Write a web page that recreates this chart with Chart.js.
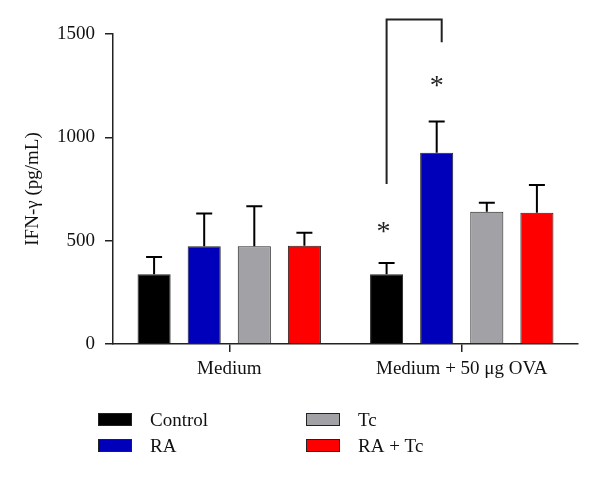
<!DOCTYPE html>
<html lang="en">
<head>
<meta charset="UTF-8">
<title>IFN-γ</title>
<script src="https://cdn.jsdelivr.net/npm/chart.js"></script>
<style>
    body { margin: 0; background: #fff; }
</style>
</head>
<body>
<canvas id="myChart" width="600" height="479"></canvas>
<script>
    // data
    const categories = ['Medium', 'Medium + 50 μg OVA'];
    const seriesNames = ['Control', 'RA', 'Tc', 'RA + Tc'];
    const controlValues = [337, 337];
    const raValues = [473, 926];
    const tcValues = [473, 640];
    const raTcValues = [475, 635];
    const controlErrors = [84, 55];
    const raErrors = [159, 151];
    const tcErrors = [194, 43];
    const raTcErrors = [63, 134];
    const yTicks = [0, 500, 1000, 1500];

    // significance bracket (OVA control -> OVA RA) and stars
    const bracketValues = [774, 1570, 1460]; // left bottom, top, right bottom
    const starValues = [580, 1287];          // over OVA control, over OVA RA

    const colors = ['#000000', '#0000bb', '#a2a2a6', '#ff0000'];
    const serif = "'Liberation Serif', 'DejaVu Serif', serif";

    // error bars (upper only)
    const errorBars = {
        id: 'errorBars',
        afterDatasetsDraw(chart) {
            const ctx = chart.ctx;
            const y = chart.scales.y;
            chart.data.datasets.forEach((ds, i) => {
                chart.getDatasetMeta(i).data.forEach((bar, j) => {
                    const top = y.getPixelForValue(ds.data[j] + ds.errors[j]);
                    ctx.save();
                    ctx.strokeStyle = '#000';
                    ctx.lineWidth = 2;
                    ctx.beginPath();
                    ctx.moveTo(bar.x, bar.y);
                    ctx.lineTo(bar.x, top);
                    ctx.moveTo(bar.x - 8, top);
                    ctx.lineTo(bar.x + 8, top);
                    ctx.stroke();
                    ctx.restore();
                });
            });
        }
    };

    // bracket + asterisks
    const significance = {
        id: 'significance',
        afterDraw(chart) {
            const ctx = chart.ctx;
            const y = chart.scales.y;
            const left = chart.getDatasetMeta(0).data[1].x;
            const right = chart.getDatasetMeta(1).data[1].x + 5;
            ctx.save();
            ctx.strokeStyle = '#222';
            ctx.lineWidth = 2;
            ctx.beginPath();
            ctx.moveTo(left, y.getPixelForValue(bracketValues[0]));
            ctx.lineTo(left, y.getPixelForValue(bracketValues[1]));
            ctx.lineTo(right, y.getPixelForValue(bracketValues[1]));
            ctx.lineTo(right, y.getPixelForValue(bracketValues[2]));
            ctx.stroke();

            ctx.fillStyle = '#222';
            ctx.font = '28px ' + serif;
            ctx.textAlign = 'center';
            ctx.textBaseline = 'alphabetic';
            const xs = [chart.getDatasetMeta(0).data[1].x - 3, chart.getDatasetMeta(1).data[1].x];
            starValues.forEach((v, k) => {
                ctx.fillText('*', xs[k], y.getPixelForValue(v) + 16);
            });
            ctx.restore();
        }
    };

    // two-column legend under the axis
    const boxLegend = {
        id: 'boxLegend',
        afterDraw(chart) {
            const ctx = chart.ctx;
            const spots = [[98, 413], [98, 439], [306, 413], [306, 439]];
            ctx.save();
            ctx.font = '19px ' + serif;
            ctx.textBaseline = 'middle';
            chart.data.datasets.forEach((ds, i) => {
                const [bx, by] = spots[i];
                ctx.fillStyle = ds.backgroundColor;
                ctx.fillRect(bx, by, 34, 13);
                ctx.strokeStyle = '#222';
                ctx.lineWidth = 1;
                ctx.strokeRect(bx + 0.5, by + 0.5, 33, 12);
                ctx.fillStyle = '#111';
                ctx.fillText(ds.label, bx + 52, by + 8);
            });
            ctx.restore();
        }
    };

    const allValues = [controlValues, raValues, tcValues, raTcValues];
    const allErrors = [controlErrors, raErrors, tcErrors, raTcErrors];

    const myChart = new Chart(document.getElementById('myChart'), {
        type: 'bar',
        data: {
            labels: categories,
            datasets: seriesNames.map((name, i) => ({
                label: name,
                data: allValues[i],
                errors: allErrors[i],
                backgroundColor: colors[i],
                borderColor: '#222',
                borderWidth: 1,
                categoryPercentage: 0.862,
                barPercentage: 0.66,
            })),
        },
        options: {
            responsive: false,
            animation: false,
            layout: { padding: { left: 0, right: 22, top: 34, bottom: 0 } },
            plugins: {
                legend: { display: false },
                tooltip: { enabled: false },
            },
            scales: {
                x: {
                    grid: { drawOnChartArea: false, offset: false, tickLength: 8, color: '#222', lineWidth: 1.5 },
                    border: { color: '#222', width: 1.5 },
                    ticks: { color: '#111', padding: 6, font: { family: serif, size: 19 } },
                    afterFit(s) { s.height = 135; },
                },
                y: {
                    min: 0,
                    max: 1500,
                    afterBuildTicks(s) { s.ticks = yTicks.map(v => ({ value: v })); },
                    grid: { drawOnChartArea: false, tickLength: 8, color: '#222', lineWidth: 1.5 },
                    border: { color: '#222', width: 1.5 },
                    ticks: {
                        color: '#111',
                        padding: 10,
                        font: { family: serif, size: 19 },
                        callback: v => String(v),
                    },
                    title: {
                        display: true,
                        text: 'IFN-γ (pg/mL)',
                        color: '#111',
                        font: { family: serif, size: 19 },
                        padding: { top: 22, bottom: 0 },
                    },
                    afterFit(s) { s.width = 113; },
                },
            },
        },
        plugins: [errorBars, significance, boxLegend],
    });
</script>
</body>
</html>
